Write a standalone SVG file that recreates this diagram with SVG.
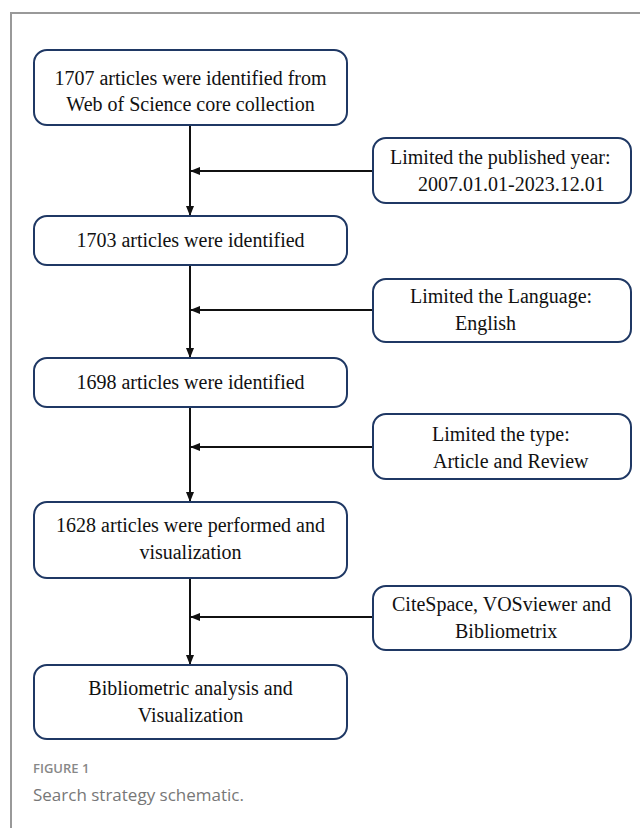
<svg xmlns="http://www.w3.org/2000/svg" width="640" height="828" viewBox="0 0 640 828">
<defs>
<style>
.box{fill:#fff;stroke:#1f3864;stroke-width:2}
.t{font-family:"Liberation Serif","Times New Roman",serif;font-size:20px;fill:#111}
.c{text-anchor:middle}
.ln{stroke:#111;stroke-width:2;fill:none}
.frame{stroke:#999;stroke-width:2;fill:none}
</style>
<marker id="ah" markerWidth="10" markerHeight="10" refX="9" refY="5" orient="auto" markerUnits="userSpaceOnUse">
<path d="M0,1 L10,5 L0,9 Z" fill="#111"/>
</marker>
</defs>
<rect width="640" height="828" fill="#fff"/>
<path class="frame" d="M640,13 H11 V828"/>
<g id="connectors">
<line class="ln" x1="190" y1="126" x2="190" y2="215" marker-end="url(#ah)"/>
<line class="ln" x1="190" y1="265" x2="190" y2="357" marker-end="url(#ah)"/>
<line class="ln" x1="190" y1="407" x2="190" y2="501" marker-end="url(#ah)"/>
<line class="ln" x1="190" y1="578" x2="190" y2="664" marker-end="url(#ah)"/>
<line class="ln" x1="373" y1="171" x2="191" y2="171" marker-end="url(#ah)"/>
<line class="ln" x1="373" y1="310" x2="191" y2="310" marker-end="url(#ah)"/>
<line class="ln" x1="373" y1="447" x2="191" y2="447" marker-end="url(#ah)"/>
<line class="ln" x1="373" y1="617" x2="191" y2="617" marker-end="url(#ah)"/>
</g>
<g id="n1"><rect class="box" x="34" y="50" width="313" height="75" rx="13"/>
<text class="t c" x="190.5" y="85">1707 articles were identified from</text>
<text class="t c" x="190.5" y="111">Web of Science core collection</text></g>
<g id="n2"><rect class="box" x="34" y="216" width="313" height="49" rx="13"/>
<text class="t c" x="190.5" y="247">1703 articles were identified</text></g>
<g id="n3"><rect class="box" x="34" y="358" width="313" height="49" rx="13"/>
<text class="t c" x="190.5" y="389">1698 articles were identified</text></g>
<g id="n4"><rect class="box" x="34" y="502" width="313" height="76" rx="13"/>
<text class="t c" x="190.5" y="532">1628 articles were performed and</text>
<text class="t c" x="190.5" y="559">visualization</text></g>
<g id="n5"><rect class="box" x="34" y="665" width="313" height="74" rx="13"/>
<text class="t c" x="190.5" y="695">Bibliometric analysis and</text>
<text class="t c" x="190.5" y="722">Visualization</text></g>
<g id="s1"><rect class="box" x="373" y="138" width="258" height="65" rx="13"/>
<text class="t" x="390" y="164">Limited the published year:</text>
<text class="t" x="418" y="191">2007.01.01-2023.12.01</text></g>
<g id="s2"><rect class="box" x="373" y="279" width="258" height="63" rx="13"/>
<text class="t" x="410" y="303">Limited the Language:</text>
<text class="t" x="455" y="330">English</text></g>
<g id="s3"><rect class="box" x="373" y="414" width="258" height="65" rx="13"/>
<text class="t" x="432" y="441">Limited the type:</text>
<text class="t" x="433" y="468">Article and Review</text></g>
<g id="s4"><rect class="box" x="373" y="586" width="258" height="64" rx="13"/>
<text class="t" x="392" y="611">CiteSpace, VOSviewer and</text>
<text class="t" x="455" y="638">Bibliometrix</text></g>
<text x="33" y="773" font-family="'Open Sans','Noto Sans',sans-serif" font-size="13" font-weight="600" fill="#888">FIGURE 1</text>
<text x="33" y="801" font-family="'Open Sans','Noto Sans',sans-serif" font-size="17" fill="#777">Search strategy schematic.</text>
</svg>
